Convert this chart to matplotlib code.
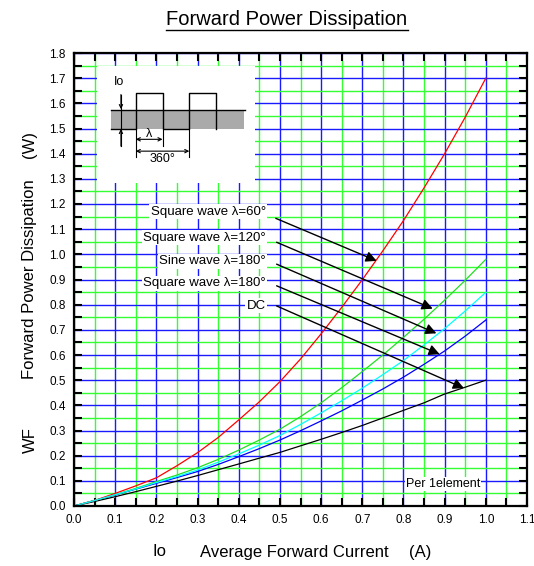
import numpy as np
import matplotlib
matplotlib.use('Agg')
import matplotlib.pyplot as plt
from matplotlib.patches import Rectangle
from matplotlib.lines import Line2D

plt.rcParams['font.family'] = ['Liberation Sans', 'DejaVu Sans']

# values (Io in A, power in W)
current = [0.0, 0.05, 0.1, 0.15, 0.2, 0.25, 0.3, 0.35, 0.4, 0.45, 0.5,
           0.55, 0.6, 0.65, 0.7, 0.75, 0.8, 0.85, 0.9, 0.95, 1.0]
sq60 = [0.0, 0.022, 0.05, 0.08, 0.112, 0.16, 0.212, 0.272, 0.342, 0.414, 0.494,
        0.584, 0.684, 0.789, 0.899, 1.014, 1.134, 1.264, 1.40, 1.545, 1.70]
sq120 = [0.0, 0.022, 0.045, 0.07, 0.097, 0.123, 0.152, 0.185, 0.222, 0.262, 0.305,
         0.355, 0.41, 0.47, 0.534, 0.60, 0.67, 0.742, 0.818, 0.897, 0.98]
sine180 = [0.0, 0.022, 0.045, 0.068, 0.093, 0.117, 0.143, 0.174, 0.207, 0.242, 0.28,
           0.324, 0.37, 0.418, 0.468, 0.522, 0.578, 0.64, 0.705, 0.775, 0.849]
sq180 = [0.0, 0.022, 0.044, 0.067, 0.09, 0.113, 0.137, 0.165, 0.196, 0.228, 0.262,
         0.299, 0.338, 0.378, 0.421, 0.465, 0.512, 0.563, 0.616, 0.675, 0.739]
dc = [0.0, 0.018, 0.037, 0.057, 0.078, 0.099, 0.121, 0.144, 0.167, 0.19, 0.213,
      0.239, 0.265, 0.292, 0.32, 0.35, 0.38, 0.41, 0.445, 0.472, 0.50]

labels = ['Square wave λ=60°', 'Square wave λ=120°', 'Sine wave λ=180°',
          'Square wave λ=180°', 'DC']
label_y = [1.169, 1.066, 0.973, 0.885, 0.795]
arrow_start = [(0.49, 1.143), (0.492, 1.048), (0.492, 0.961), (0.492, 0.875), (0.492, 0.795)]
arrow_end = [(0.735, 0.974), (0.871, 0.784), (0.880, 0.686), (0.888, 0.603), (0.947, 0.468)]

fig = plt.figure(figsize=(5.34, 5.66), dpi=100)
ax = fig.add_axes([74/534, 1-506/566, (527-74)/534, (506-53)/566])

ax.set_xlim(0, 1.1)
ax.set_ylim(0, 1.8)
ax.set_xticks(np.arange(0, 1.101, 0.1))
ax.set_xticks(np.arange(0.05, 1.1, 0.1), minor=True)
ax.set_yticks(np.arange(0, 1.801, 0.1))
ax.set_yticks(np.arange(0.05, 1.8, 0.1), minor=True)
ax.set_xticklabels(['%.1f' % v for v in np.arange(0, 1.101, 0.1)])
ax.set_yticklabels(['%.1f' % v for v in np.arange(0, 1.801, 0.1)])
ax.tick_params(which='both', direction='in', length=6, width=1.5, top=True, right=True,
               labelsize=8.5, pad=6)
ax.set_axisbelow(True)
ax.grid(which='minor', color='#33ff33', lw=1.0)
ax.grid(which='major', color='#1a1aff', lw=1.0)
for s in ax.spines.values():
    s.set_linewidth(1.6)

# curves
ax.plot(current, dc, color='black', lw=0.9)
ax.plot(current, sq180, color='blue', lw=0.9)
ax.plot(current, sq120, color='#22dd22', lw=0.9)
ax.plot(current, sq60, color='red', lw=0.9)
ax.plot(current, sine180, color='cyan', lw=0.9)

# labels + arrows
for lab, ly, st, en in zip(labels, label_y, arrow_start, arrow_end):
    ax.text(0.466, ly, lab, ha='right', va='center', fontsize=9.5, zorder=5,
            bbox=dict(facecolor='white', edgecolor='none', pad=1))
    ax.annotate('', xy=en, xytext=st,
                arrowprops=dict(arrowstyle='-|>', color='black', lw=1,
                                mutation_scale=16, shrinkA=0, shrinkB=0), zorder=6)

ax.text(0.806, 0.087, 'Per 1element', ha='left', va='center', fontsize=9, zorder=5,
        bbox=dict(facecolor='white', edgecolor='none', pad=0.5))

# waveform inset
ax.add_patch(Rectangle((0.055, 1.285), 0.385, 0.462, facecolor='white', edgecolor='none', zorder=2))
ax.add_patch(Rectangle((0.09, 1.50), 0.323, 0.073, facecolor='#aaaaaa', edgecolor='none', zorder=3))
ax.plot([0.09, 0.415], [1.575, 1.575], color='black', lw=1, zorder=4)
ax.plot([0.09, 0.15, 0.15, 0.215, 0.215, 0.28, 0.28, 0.345, 0.345],
        [1.50, 1.50, 1.64, 1.64, 1.50, 1.50, 1.64, 1.64, 1.50], color='black', lw=1, zorder=4)
ax.plot([0.114, 0.114], [1.43, 1.635], color='black', lw=0.8, zorder=4)
for a, b in [((0.114, 1.635), (0.114, 1.577)), ((0.114, 1.43), (0.114, 1.498))]:
    ax.annotate('', xy=b, xytext=a, zorder=5,
                arrowprops=dict(arrowstyle='->', color='black', lw=0.8, mutation_scale=6,
                                shrinkA=0, shrinkB=0))
ax.plot([0.15, 0.15], [1.50, 1.385], color='black', lw=0.8, zorder=4)
ax.plot([0.215, 0.215], [1.50, 1.43], color='black', lw=0.8, zorder=4)
ax.plot([0.28, 0.28], [1.50, 1.385], color='black', lw=0.8, zorder=4)
for y0, x1 in [(1.457, 0.215), (1.41, 0.28)]:
    ax.annotate('', xy=(x1, y0), xytext=(0.15, y0), zorder=5,
                arrowprops=dict(arrowstyle='<->', color='black', lw=0.8, mutation_scale=6,
                                shrinkA=0, shrinkB=0))
ax.text(0.182, 1.478, 'λ', ha='center', va='center', fontsize=9, zorder=5)
ax.text(0.215, 1.378, '360°', ha='center', va='center', fontsize=9, zorder=5)
ax.text(0.11, 1.685, 'Io', ha='center', va='center', fontsize=9, zorder=5)

# title (underlined) and axis labels
t = fig.text(287/534, 1-19.5/566, 'Forward Power Dissipation', ha='center', va='center', fontsize=14.5)
fig.text(160/534, 1-552/566, 'Io', ha='center', va='center', fontsize=12)
fig.text(200/534, 1-552/566, 'Average Forward Current', ha='left', va='center', fontsize=12)
fig.text(420/534, 1-552/566, '(A)', ha='center', va='center', fontsize=12)
fig.text(30/534, 1-440/566, 'WF', ha='center', va='center', rotation=90, fontsize=12)
fig.text(30/534, 1-279/566, 'Forward Power Dissipation', ha='center', va='center', rotation=90, fontsize=12)
fig.text(30/534, 1-145/566, '(W)', ha='center', va='center', rotation=90, fontsize=12)

fig.canvas.draw()
bb = t.get_window_extent().transformed(fig.transFigure.inverted())
fig.add_artist(Line2D([bb.x0, bb.x1], [1-29.5/566]*2, color='black', lw=1))

fig.savefig('out.png', dpi=100)
